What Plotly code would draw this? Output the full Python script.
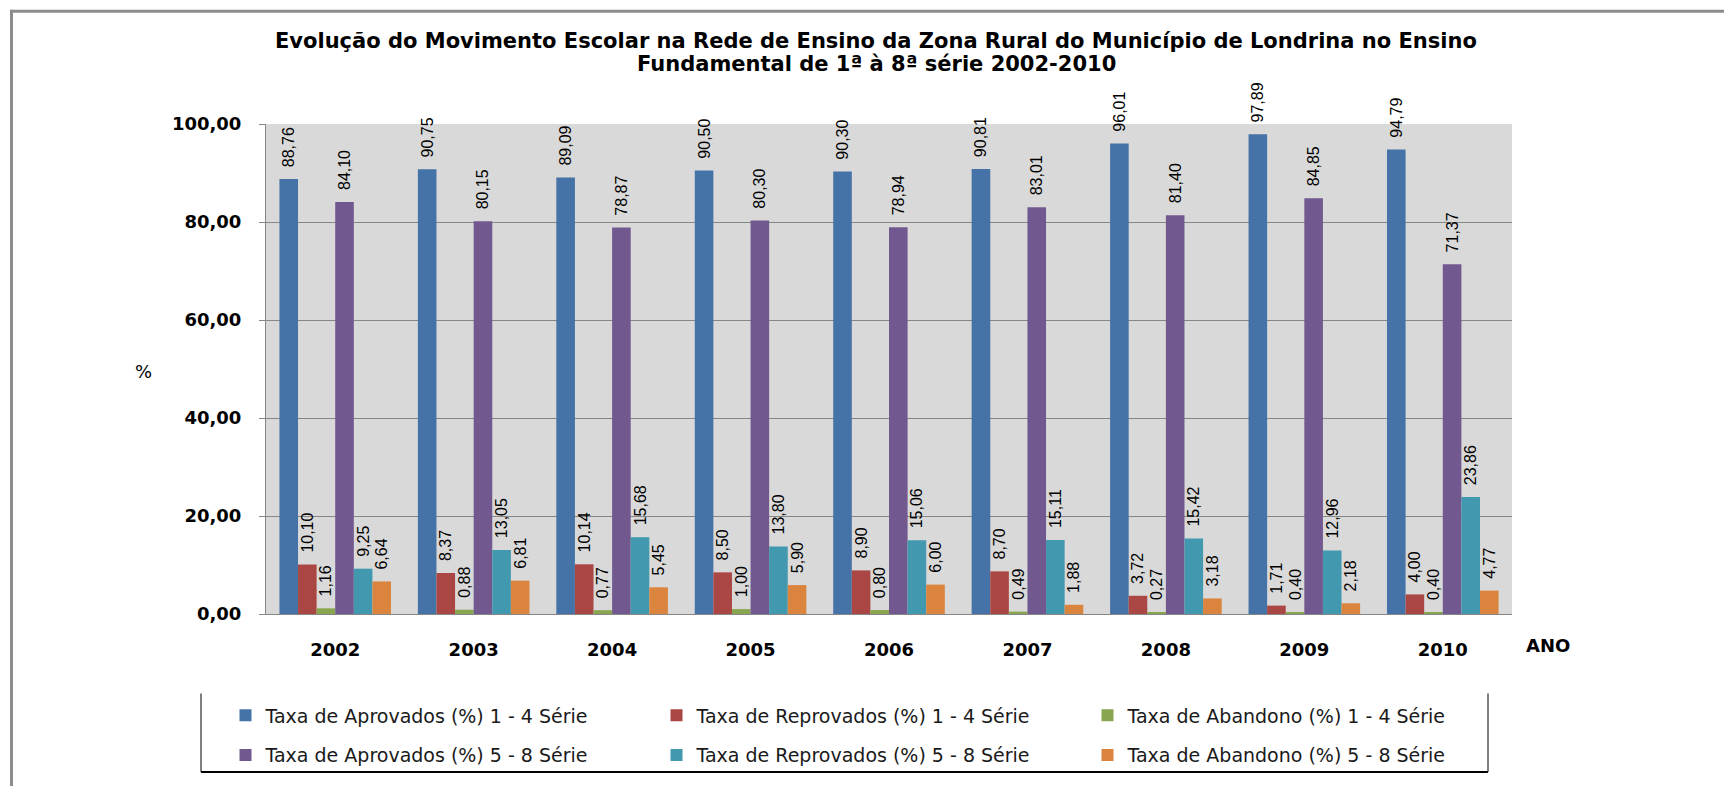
import plotly.graph_objects as go

anos = ["2002", "2003", "2004", "2005", "2006", "2007", "2008", "2009", "2010"]

aprov_14 = [88.76, 90.75, 89.09, 90.50, 90.30, 90.81, 96.01, 97.89, 94.79]
reprov_14 = [10.10, 8.37, 10.14, 8.50, 8.90, 8.70, 3.72, 1.71, 4.00]
aband_14 = [1.16, 0.88, 0.77, 1.00, 0.80, 0.49, 0.27, 0.40, 0.40]
aprov_58 = [84.10, 80.15, 78.87, 80.30, 78.94, 83.01, 81.40, 84.85, 71.37]
reprov_58 = [9.25, 13.05, 15.68, 13.80, 15.06, 15.11, 15.42, 12.96, 23.86]
aband_58 = [6.64, 6.81, 5.45, 5.90, 6.00, 1.88, 3.18, 2.18, 4.77]

nomes = [
    "Taxa de Aprovados (%) 1 - 4 Série",
    "Taxa de Reprovados (%) 1 - 4 Série",
    "Taxa de Abandono (%) 1 - 4 Série",
    "Taxa de Aprovados (%) 5 - 8 Série",
    "Taxa de Reprovados (%) 5 - 8 Série",
    "Taxa de Abandono (%) 5 - 8 Série",
]
series = [aprov_14, reprov_14, aband_14, aprov_58, reprov_58, aband_58]
cores = ["#4572A7", "#AA4643", "#89A54E", "#71588F", "#4198AF", "#DB843D"]
legendas = ["legend", "legend", "legend", "legend2", "legend2", "legend2"]

titulo_l1 = "Evolução do Movimento Escolar na Rede de Ensino da Zona Rural do Município de Londrina no Ensino"
titulo_l2 = "Fundamental de 1ª à 8ª série 2002-2010"

# plot area in pixels
L, R, T, B = 266, 1512, 124, 617
W, H = R - L, B - T
def px(x):
    return (x - L) / W
def py(y):
    return (B - y) / H

fig = go.Figure()
for nome, vals, cor, lg in zip(nomes, series, cores, legendas):
    fig.add_trace(go.Bar(
        x=anos, y=vals, name=nome, marker=dict(color=cor, line=dict(width=0)),
        text=["\u00a0\u00a0" + f"{v:.2f}".replace(".", ",") for v in vals],
        textposition="outside", textangle=-90, constraintext="none",
        cliponaxis=False,
        outsidetextfont=dict(family="Liberation Sans, Arial", size=16, color="#000000"),
        legend=lg,
    ))

legend_common = dict(
    orientation="h", entrywidth=386, entrywidthmode="pixels",
    xanchor="left", yanchor="middle", bgcolor="rgba(0,0,0,0)", borderwidth=0,
    font=dict(family="DejaVu Sans", size=19, color="#1a1a1a"),
    itemclick=False,
)

fig.update_layout(
    width=1724, height=786,
    margin=dict(l=L, r=1724 - R, t=T, b=786 - B, pad=0),
    paper_bgcolor="white", plot_bgcolor="#D9D9D9",
    separators=",.",
    barmode="group", bargap=0.194, bargroupgap=0,
    legend=dict(x=px(225.5), y=py(719), **legend_common),
    legend2=dict(x=px(225.5), y=py(759), **legend_common),
    xaxis=dict(
        type="category", showgrid=False, showline=True, linecolor="#868686", linewidth=1,
        ticks="", tickfont=dict(family="DejaVu Sans", size=18, color="#000000", weight="bold"),
        ticklabelstandoff=19,
    ),
    yaxis=dict(
        range=[0, 100], tick0=0, dtick=20, tickformat=".2f",
        showgrid=True, gridcolor="#868686", gridwidth=1,
        showline=True, linecolor="#868686", linewidth=1,
        ticks="outside", ticklen=6, tickcolor="#868686",
        tickfont=dict(family="DejaVu Sans", size=18, color="#000000", weight="bold"),
        ticklabelstandoff=14, zeroline=False,
    ),
    showlegend=True,
    annotations=[
        dict(text=titulo_l1, x=px(876), y=py(40), xref="paper", yref="paper",
             showarrow=False, xanchor="center", yanchor="middle",
             font=dict(family="DejaVu Sans", size=21, color="#000000", weight="bold")),
        dict(text=titulo_l2, x=px(876), y=py(63.5), xref="paper", yref="paper",
             showarrow=False, xanchor="center", yanchor="middle",
             font=dict(family="DejaVu Sans", size=21, color="#000000", weight="bold")),
        dict(text="%", x=px(143), y=py(373), xref="paper", yref="paper",
             showarrow=False, xanchor="center", yanchor="middle",
             font=dict(family="DejaVu Sans", size=18, color="#000000")),
        dict(text="ANO", x=px(1548), y=py(649), xref="paper", yref="paper",
             showarrow=False, xanchor="center", yanchor="middle",
             font=dict(family="DejaVu Sans", size=18, color="#000000", weight="bold")),
    ],
    shapes=[
        # outer chart frame
        dict(type="line", xref="paper", yref="paper", x0=px(11.5), x1=px(11.5), y0=py(9), y1=py(800),
             line=dict(color="#8C8C8C", width=3)),
        dict(type="line", xref="paper", yref="paper", x0=px(10), x1=px(1730), y0=py(10.5), y1=py(10.5),
             line=dict(color="#8C8C8C", width=3)),
        # legend box
        dict(type="line", xref="paper", yref="paper", x0=px(201), x1=px(201), y0=py(697), y1=py(776),
             line=dict(color="#000000", width=1)),
        dict(type="line", xref="paper", yref="paper", x0=px(1488), x1=px(1488), y0=py(697), y1=py(776),
             line=dict(color="#000000", width=1)),
        dict(type="line", xref="paper", yref="paper", x0=px(201), x1=px(1488), y0=py(776), y1=py(776),
             line=dict(color="#000000", width=2)),
    ],
)

fig.write_html("out.html", config={"displayModeBar": False},
               post_script="document.body.style.margin='0';document.body.style.overflow='hidden';")
